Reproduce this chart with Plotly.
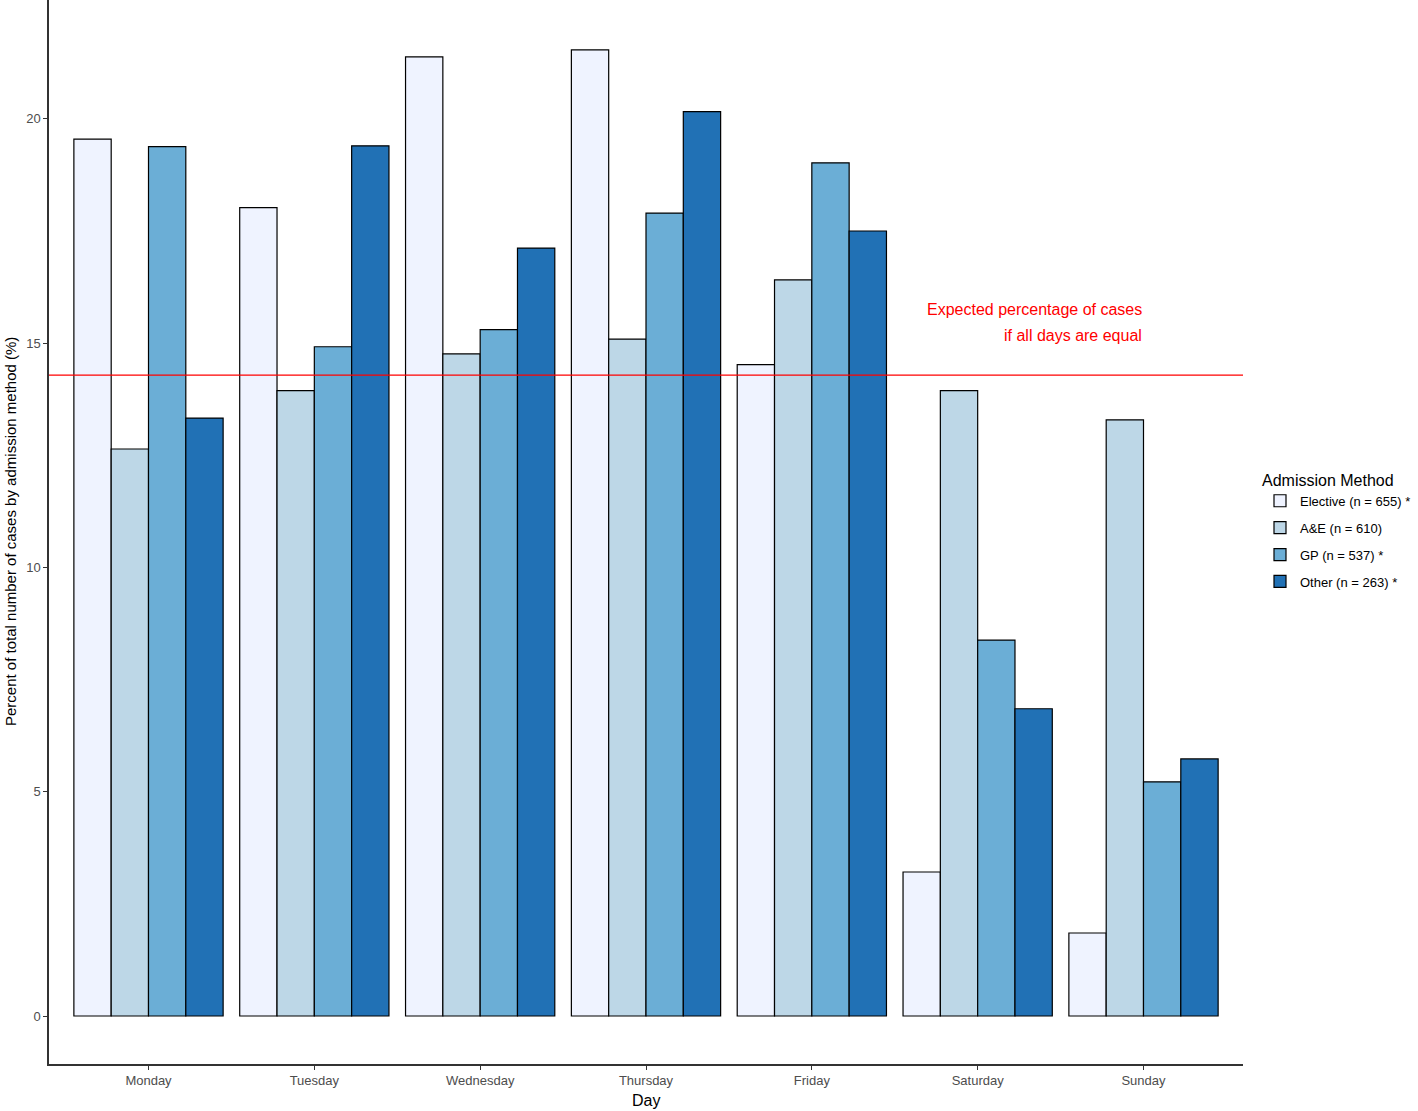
import plotly.graph_objects as go

days = ["Monday", "Tuesday", "Wednesday", "Thursday", "Friday", "Saturday", "Sunday"]
series_names = ["Elective (n = 655) *", "A&E (n = 610)", "GP (n = 537) *", "Other (n = 263) *"]
elective = [19.55, 18.02, 21.38, 21.54, 14.52, 3.21, 1.85]
ae = [12.64, 13.94, 14.76, 15.09, 16.41, 13.94, 13.29]
gp = [19.38, 14.92, 15.30, 17.90, 19.02, 8.38, 5.22]
other = [13.33, 19.40, 17.12, 20.16, 17.50, 6.85, 5.73]
expected = 100 / 7
colors = ["#EFF3FF", "#BDD7E7", "#6BAED6", "#2171B5"]

FONT = "Liberation Sans, Arial"
W, H = 1418, 1111
ML, MR, MT, MB = 49, 175, 0, 47
PW, PH = W - ML - MR, H - MT - MB

fig = go.Figure()
for i, (name, vals, col) in enumerate(zip(series_names, [elective, ae, gp, other], colors)):
    fig.add_trace(go.Bar(x=days, y=vals, name=name, legendgroup=f"g{i}",
                         marker=dict(color=col, line=dict(color="black", width=1.2))))

fig.add_shape(type="line", xref="paper", x0=0, x1=1, yref="y", y0=expected, y1=expected,
              line=dict(color="#FF0000", width=1.2))
fig.add_annotation(x=6, y=15.74, xref="x", yref="y", xanchor="right", yanchor="middle",
                   text="Expected percentage of cases", showarrow=False,
                   font=dict(color="#FF0000", size=16, family=FONT))
fig.add_annotation(x=6, y=15.18, xref="x", yref="y", xanchor="right", yanchor="middle",
                   text="if all days are equal", showarrow=False,
                   font=dict(color="#FF0000", size=16, family=FONT))

# axis titles
fig.add_annotation(x=(646 - ML) / PW, y=-(1100 - (MT + PH)) / PH, xref="paper", yref="paper",
                   text="Day", showarrow=False, xanchor="center", yanchor="middle",
                   font=dict(size=16, color="black", family=FONT))
fig.add_annotation(x=-(ML - 10) / PW, y=0.5, xref="paper", yref="paper", textangle=-90,
                   text="Percent of total number of cases by admission method (%)",
                   showarrow=False, xanchor="center", yanchor="middle",
                   font=dict(size=15, color="black", family=FONT))

fig.update_layout(
    width=W, height=H,
    margin=dict(l=ML, r=MR, t=MT, b=MB, autoexpand=False),
    paper_bgcolor="white", plot_bgcolor="white",
    barmode="group", bargap=0.1, bargroupgap=0,
    font=dict(family=FONT, color="#4d4d4d"),
    legend=dict(title=dict(text="Admission Method", font=dict(size=16, color="black")),
                x=(1260 - ML) / PW, xanchor="left", y=1 - 531 / PH, yanchor="middle",
                font=dict(size=13, color="black"), tracegroupgap=7, itemwidth=30),
    showlegend=True,
)
fig.update_xaxes(range=[-0.6, 6.6], showline=True, linecolor="#333333", linewidth=1.5,
                 ticks="outside", ticklen=4, tickcolor="#333333", showgrid=False,
                 tickfont=dict(size=13, color="#4d4d4d"), automargin=False)
fig.update_yaxes(range=[-1.07, 22.65], showline=True, linecolor="#333333", linewidth=1.5,
                 ticks="outside", ticklen=4, tickcolor="#333333", showgrid=False, zeroline=False,
                 tickvals=[0, 5, 10, 15, 20], tickfont=dict(size=13, color="#4d4d4d"),
                 automargin=False)

fig.write_html("out.html", config={"displayModeBar": False},
               post_script="document.body.style.margin='0';document.body.style.overflow='hidden';")
